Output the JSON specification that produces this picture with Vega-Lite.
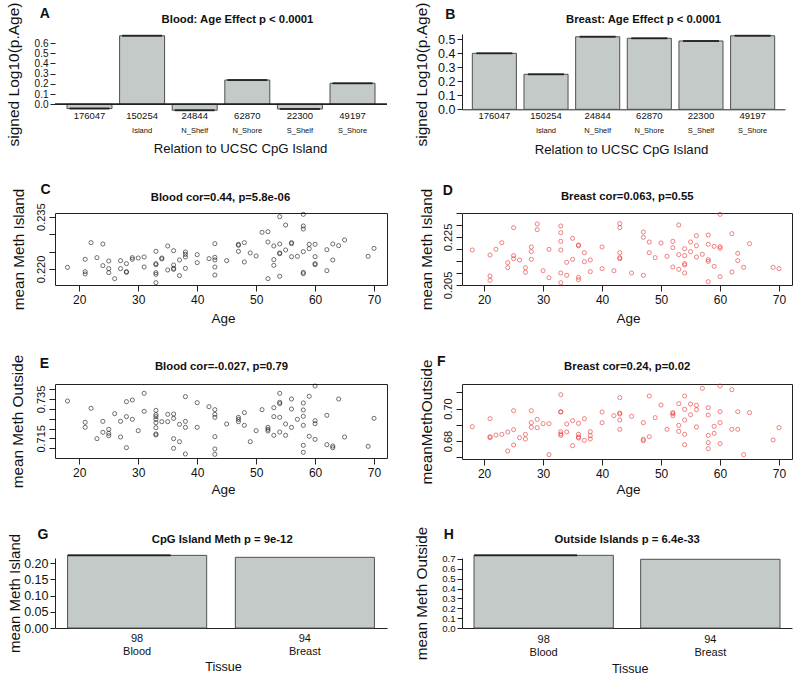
{
"$schema": "https://vega.github.io/schema/vega-lite/v6.json",
"autosize": {"type": "pad"},
"padding": {"left": 6, "top": 2, "right": 0, "bottom": 0},
"config": {
 "font": "Liberation Sans",
 "view": {"stroke": null},
 "axis": {"grid": false, "labelOverlap": false, "labelFlush": false, "titleFontWeight": "normal", "domainColor": "#222", "tickColor": "#222", "labelColor": "#111", "titleColor": "#111"}
},
"datasets": {
 "A": [{"n":"176047","r":"","v":-0.042},{"n":"150254","r":"Island","v":0.672},{"n":"24844","r":"N_Shelf","v":-0.058},{"n":"62870","r":"N_Shore","v":0.238},{"n":"22300","r":"S_Shelf","v":-0.046},{"n":"49197","r":"S_Shore","v":0.206}],
 "B": [{"n":"176047","r":"","v":0.398},{"n":"150254","r":"Island","v":0.249},{"n":"24844","r":"N_Shelf","v":0.516},{"n":"62870","r":"N_Shore","v":0.505},{"n":"22300","r":"S_Shelf","v":0.486},{"n":"49197","r":"S_Shore","v":0.523}],
 "G": [{"t":"98|Blood","v":0.2235},{"t":"94|Breast","v":0.2175}],
 "H": [{"t":"98|Blood","v":0.737},{"t":"94|Breast","v":0.697}],
 "C": [{"a":18,"m":0.22048},{"a":21,"m":0.22277},{"a":21,"m":0.21924},{"a":21,"m":0.21857},{"a":22,"m":0.22755},{"a":23,"m":0.22325},{"a":24,"m":0.22717},{"a":24,"m":0.22096},{"a":25,"m":0.22229},{"a":25,"m":0.2201},{"a":25,"m":0.21895},{"a":26,"m":0.21723},{"a":27,"m":0.22239},{"a":27,"m":0.2201},{"a":28,"m":0.22153},{"a":28,"m":0.21924},{"a":28,"m":0.21904},{"a":29,"m":0.22325},{"a":29,"m":0.22277},{"a":30,"m":0.22315},{"a":31,"m":0.22344},{"a":31,"m":0.22057},{"a":33,"m":0.22506},{"a":33,"m":0.22153},{"a":33,"m":0.22124},{"a":33,"m":0.21895},{"a":33,"m":0.21847},{"a":33,"m":0.21608},{"a":34,"m":0.22315},{"a":34,"m":0.22287},{"a":35,"m":0.22659},{"a":35,"m":0.21971},{"a":36,"m":0.22525},{"a":36,"m":0.22115},{"a":36,"m":0.22019},{"a":36,"m":0.2199},{"a":37,"m":0.22258},{"a":37,"m":0.21809},{"a":38,"m":0.22487},{"a":38,"m":0.2242},{"a":38,"m":0.22344},{"a":38,"m":0.22019},{"a":40,"m":0.22411},{"a":40,"m":0.22182},{"a":42,"m":0.22296},{"a":43,"m":0.22726},{"a":43,"m":0.22334},{"a":43,"m":0.22258},{"a":43,"m":0.22057},{"a":43,"m":0.21828},{"a":45,"m":0.22239},{"a":47,"m":0.22707},{"a":47,"m":0.22678},{"a":47,"m":0.22506},{"a":48,"m":0.22755},{"a":48,"m":0.22201},{"a":49,"m":0.22459},{"a":50,"m":0.22373},{"a":51,"m":0.23051},{"a":52,"m":0.2307},{"a":52,"m":0.22774},{"a":52,"m":0.21723},{"a":53,"m":0.22659},{"a":53,"m":0.22268},{"a":53,"m":0.22105},{"a":54,"m":0.235},{"a":54,"m":0.22717},{"a":54,"m":0.22459},{"a":54,"m":0.22439},{"a":54,"m":0.2179},{"a":55,"m":0.23261},{"a":55,"m":0.22545},{"a":56,"m":0.22755},{"a":56,"m":0.22726},{"a":56,"m":0.22353},{"a":57,"m":0.22363},{"a":58,"m":0.23567},{"a":58,"m":0.23232},{"a":58,"m":0.23146},{"a":58,"m":0.22497},{"a":58,"m":0.21904},{"a":58,"m":0.21866},{"a":59,"m":0.22707},{"a":59,"m":0.22583},{"a":60,"m":0.22707},{"a":60,"m":0.22353},{"a":60,"m":0.22153},{"a":60,"m":0.22124},{"a":62,"m":0.22554},{"a":62,"m":0.21952},{"a":63,"m":0.22717},{"a":63,"m":0.22258},{"a":64,"m":0.22669},{"a":65,"m":0.22831},{"a":69,"m":0.22363},{"a":70,"m":0.22592}],
 "D": [{"a":18,"m":0.21958},{"a":21,"m":0.2175},{"a":21,"m":0.20875},{"a":21,"m":0.20694},{"a":22,"m":0.21986},{"a":23,"m":0.22264},{"a":24,"m":0.21431},{"a":24,"m":0.21222},{"a":25,"m":0.22889},{"a":25,"m":0.21722},{"a":25,"m":0.21597},{"a":26,"m":0.21542},{"a":27,"m":0.21222},{"a":27,"m":0.21028},{"a":28,"m":0.22083},{"a":28,"m":0.21889},{"a":28,"m":0.2157},{"a":29,"m":0.23042},{"a":29,"m":0.22806},{"a":30,"m":0.21097},{"a":31,"m":0.21986},{"a":31,"m":0.20806},{"a":33,"m":0.22959},{"a":33,"m":0.22681},{"a":33,"m":0.2232},{"a":33,"m":0.21958},{"a":33,"m":0.21},{"a":33,"m":0.20597},{"a":34,"m":0.21445},{"a":34,"m":0.20903},{"a":35,"m":0.22445},{"a":35,"m":0.2157},{"a":36,"m":0.22167},{"a":36,"m":0.22139},{"a":36,"m":0.20819},{"a":36,"m":0.20722},{"a":37,"m":0.21847},{"a":37,"m":0.21472},{"a":38,"m":0.21542},{"a":38,"m":0.21056},{"a":40,"m":0.22083},{"a":40,"m":0.21181},{"a":42,"m":0.21097},{"a":43,"m":0.23056},{"a":43,"m":0.22889},{"a":43,"m":0.21847},{"a":43,"m":0.21639},{"a":43,"m":0.21597},{"a":45,"m":0.21},{"a":47,"m":0.22709},{"a":47,"m":0.22486},{"a":47,"m":0.20903},{"a":48,"m":0.22292},{"a":48,"m":0.21847},{"a":49,"m":0.21639},{"a":50,"m":0.2225},{"a":51,"m":0.21695},{"a":52,"m":0.2232},{"a":52,"m":0.22056},{"a":52,"m":0.2125},{"a":53,"m":0.23},{"a":53,"m":0.21764},{"a":53,"m":0.21153},{"a":54,"m":0.22014},{"a":54,"m":0.21722},{"a":54,"m":0.21389},{"a":54,"m":0.21333},{"a":54,"m":0.21},{"a":55,"m":0.22292},{"a":55,"m":0.21889},{"a":56,"m":0.22556},{"a":56,"m":0.22139},{"a":56,"m":0.21667},{"a":57,"m":0.21778},{"a":58,"m":0.22584},{"a":58,"m":0.22195},{"a":58,"m":0.21556},{"a":58,"m":0.21486},{"a":58,"m":0.20639},{"a":59,"m":0.22111},{"a":59,"m":0.21278},{"a":60,"m":0.23445},{"a":60,"m":0.22097},{"a":60,"m":0.22028},{"a":60,"m":0.20847},{"a":62,"m":0.22639},{"a":62,"m":0.21042},{"a":63,"m":0.2182},{"a":63,"m":0.21514},{"a":64,"m":0.21236},{"a":65,"m":0.22222},{"a":69,"m":0.21236},{"a":70,"m":0.21181}],
 "E": [{"a":18,"m":0.73398},{"a":21,"m":0.72314},{"a":21,"m":0.72059},{"a":22,"m":0.73026},{"a":23,"m":0.71483},{"a":24,"m":0.72364},{"a":24,"m":0.71805},{"a":25,"m":0.71958},{"a":25,"m":0.71754},{"a":25,"m":0.71636},{"a":26,"m":0.72754},{"a":27,"m":0.72364},{"a":27,"m":0.71568},{"a":28,"m":0.73365},{"a":28,"m":0.72602},{"a":28,"m":0.71025},{"a":29,"m":0.73449},{"a":29,"m":0.72466},{"a":30,"m":0.7189},{"a":31,"m":0.73788},{"a":31,"m":0.72873},{"a":33,"m":0.72924},{"a":33,"m":0.72703},{"a":33,"m":0.72602},{"a":33,"m":0.72466},{"a":33,"m":0.72297},{"a":33,"m":0.72042},{"a":33,"m":0.7172},{"a":33,"m":0.7167},{"a":34,"m":0.72348},{"a":35,"m":0.7272},{"a":35,"m":0.72348},{"a":36,"m":0.72737},{"a":36,"m":0.72517},{"a":36,"m":0.71483},{"a":36,"m":0.70992},{"a":37,"m":0.72212},{"a":37,"m":0.7133},{"a":38,"m":0.73619},{"a":38,"m":0.72364},{"a":38,"m":0.72059},{"a":38,"m":0.70703},{"a":40,"m":0.73314},{"a":40,"m":0.72059},{"a":42,"m":0.7311},{"a":43,"m":0.72958},{"a":43,"m":0.7272},{"a":43,"m":0.72568},{"a":43,"m":0.71585},{"a":43,"m":0.70958},{"a":43,"m":0.70686},{"a":45,"m":0.72229},{"a":47,"m":0.72568},{"a":47,"m":0.72466},{"a":47,"m":0.72348},{"a":48,"m":0.72805},{"a":48,"m":0.72161},{"a":49,"m":0.7133},{"a":50,"m":0.7189},{"a":51,"m":0.72958},{"a":52,"m":0.72059},{"a":52,"m":0.71958},{"a":52,"m":0.71873},{"a":53,"m":0.73059},{"a":53,"m":0.72602},{"a":53,"m":0.71653},{"a":54,"m":0.73788},{"a":54,"m":0.73331},{"a":54,"m":0.73263},{"a":54,"m":0.72568},{"a":54,"m":0.71822},{"a":55,"m":0.72229},{"a":55,"m":0.71653},{"a":56,"m":0.735},{"a":56,"m":0.72992},{"a":56,"m":0.72059},{"a":57,"m":0.72466},{"a":58,"m":0.73297},{"a":58,"m":0.72941},{"a":58,"m":0.72619},{"a":58,"m":0.72161},{"a":58,"m":0.71144},{"a":58,"m":0.70788},{"a":59,"m":0.73636},{"a":59,"m":0.71602},{"a":60,"m":0.74161},{"a":60,"m":0.72398},{"a":60,"m":0.72246},{"a":60,"m":0.71449},{"a":62,"m":0.7267},{"a":62,"m":0.71178},{"a":63,"m":0.7111},{"a":63,"m":0.71025},{"a":64,"m":0.735},{"a":65,"m":0.71568},{"a":69,"m":0.71093},{"a":70,"m":0.72517}],
 "F": [{"a":18,"m":0.68882},{"a":21,"m":0.69374},{"a":21,"m":0.68267},{"a":21,"m":0.68205},{"a":22,"m":0.68369},{"a":23,"m":0.6841},{"a":24,"m":0.68554},{"a":24,"m":0.67385},{"a":25,"m":0.69867},{"a":25,"m":0.68697},{"a":25,"m":0.67754},{"a":26,"m":0.68205},{"a":27,"m":0.6841},{"a":27,"m":0.68123},{"a":28,"m":0.69867},{"a":28,"m":0.69128},{"a":28,"m":0.68841},{"a":29,"m":0.69333},{"a":29,"m":0.68821},{"a":30,"m":0.69067},{"a":31,"m":0.69067},{"a":31,"m":0.67159},{"a":33,"m":0.70851},{"a":33,"m":0.69805},{"a":33,"m":0.69785},{"a":33,"m":0.68574},{"a":33,"m":0.68431},{"a":33,"m":0.68349},{"a":34,"m":0.69046},{"a":34,"m":0.68554},{"a":35,"m":0.69251},{"a":35,"m":0.67713},{"a":36,"m":0.69087},{"a":36,"m":0.6841},{"a":36,"m":0.68246},{"a":36,"m":0.68185},{"a":37,"m":0.69374},{"a":37,"m":0.68041},{"a":38,"m":0.68574},{"a":38,"m":0.68328},{"a":38,"m":0.68123},{"a":40,"m":0.69785},{"a":40,"m":0.69128},{"a":42,"m":0.69559},{"a":43,"m":0.70667},{"a":43,"m":0.69723},{"a":43,"m":0.69662},{"a":43,"m":0.69292},{"a":43,"m":0.68718},{"a":45,"m":0.69518},{"a":47,"m":0.69128},{"a":47,"m":0.68103},{"a":47,"m":0.68021},{"a":48,"m":0.70769},{"a":48,"m":0.68267},{"a":49,"m":0.69436},{"a":50,"m":0.70215},{"a":51,"m":0.68718},{"a":52,"m":0.69744},{"a":52,"m":0.69682},{"a":52,"m":0.69559},{"a":53,"m":0.70297},{"a":53,"m":0.68964},{"a":53,"m":0.68595},{"a":54,"m":0.70769},{"a":54,"m":0.69949},{"a":54,"m":0.69292},{"a":54,"m":0.6841},{"a":54,"m":0.67774},{"a":55,"m":0.70277},{"a":55,"m":0.6962},{"a":56,"m":0.70195},{"a":56,"m":0.69928},{"a":56,"m":0.68862},{"a":57,"m":0.71241},{"a":58,"m":0.70051},{"a":58,"m":0.696},{"a":58,"m":0.68349},{"a":58,"m":0.67897},{"a":58,"m":0.67528},{"a":59,"m":0.68903},{"a":59,"m":0.68472},{"a":60,"m":0.71385},{"a":60,"m":0.69805},{"a":60,"m":0.69128},{"a":60,"m":0.67836},{"a":62,"m":0.71159},{"a":62,"m":0.68718},{"a":63,"m":0.69805},{"a":63,"m":0.68718},{"a":64,"m":0.67159},{"a":65,"m":0.69744},{"a":69,"m":0.68062},{"a":70,"m":0.68821}]
},
"columns": 2,
"bounds": "flush",
"align": "each",
"center": false,
"spacing": {"row": 99, "column": 75},
"concat": [
 {"width": 332, "height": 80, "data": {"name": "A"},
  "layer": [
   {"mark": {"type": "bar", "fill": "#C3CAC8", "stroke": "#505050", "strokeWidth": 1},
    "encoding": {
     "x": {"field": "n", "type": "nominal", "sort": null, "scale": {"paddingInner": 0.145, "paddingOuter": 0.228},
      "axis": {"orient": "bottom", "title": "Relation to UCSC CpG Island", "domain": false, "ticks": false, "tickSize": 0, "labelAngle": 0, "labelFontSize": 9.5, "labelBaseline": "middle", "labelPadding": 1.5, "titleFontSize": 13.2, "titleX": 185, "titleY": 34.3, "titleBaseline": "middle"}},
     "y": {"field": "v", "type": "quantitative", "scale": {"domain": [-0.0951, 0.6892], "nice": false, "zero": false},
      "axis": {"orient": "left", "title": "signed Log10(p.Age)", "values": [0, 0.1, 0.2, 0.3, 0.4, 0.5, 0.6], "format": ".1f", "domain": false, "tickSize": 5, "labelPadding": 2, "labelFontSize": 10, "titleFontSize": 15.5, "titleX": -41.5, "titleY": 40, "titleBaseline": "middle"}}}},
   {"mark": {"type": "rule", "color": "#222", "strokeWidth": 1},
    "encoding": {"y": {"datum": 0, "type": "quantitative", "scale": {"domain": [-0.0951, 0.6892], "nice": false, "zero": false}, "axis": null}}},
   {"mark": {"type": "text", "fontSize": 7.5, "baseline": "middle", "color": "#111"},
    "encoding": {"x": {"field": "n", "type": "nominal", "sort": null, "axis": null}, "y": {"datum": -0.2588, "type": "quantitative", "scale": {"domain": [-0.0951, 0.6892], "nice": false, "zero": false}, "axis": null}, "text": {"field": "r"}}},
   {"mark": {"type": "tick", "color": "#000", "thickness": 2, "size": 40},
    "encoding": {
     "x": {"field": "n", "type": "nominal", "sort": null, "axis": {"orient": "top", "title": "Blood: Age Effect p < 0.0001", "labels": false, "ticks": false, "domain": false, "titleFontWeight": "bold", "titleFontSize": 11.3, "titleX": 182, "titleY": -14.5, "titleBaseline": "middle"}},
     "y": {"field": "v", "type": "quantitative", "scale": {"domain": [-0.0951, 0.6892], "nice": false, "zero": false}, "axis": {"orient": "right", "title": "A", "labels": false, "ticks": false, "domain": false, "titleAngle": 0, "titleAlign": "center", "titleBaseline": "middle", "titleFontWeight": "bold", "titleFontSize": 14, "titleX": -342.7, "titleY": -20.2}}}}
  ],
  "resolve": {"axis": {"x": "independent", "y": "independent"}}},
 {"width": 323, "height": 75.3, "data": {"name": "B"},
  "layer": [
   {"mark": {"type": "bar", "fill": "#C3CAC8", "stroke": "#505050", "strokeWidth": 1},
    "encoding": {
     "x": {"field": "n", "type": "nominal", "sort": null, "scale": {"paddingInner": 0.147, "paddingOuter": 0.2},
      "axis": {"orient": "bottom", "title": "Relation to UCSC CpG Island", "domain": true, "ticks": false, "tickSize": 0, "labelAngle": 0, "labelFontSize": 9.5, "labelBaseline": "middle", "labelPadding": 6, "titleFontSize": 13.2, "titleX": 159, "titleY": 39.7, "titleBaseline": "middle"}},
     "y": {"field": "v", "type": "quantitative", "scale": {"domain": [0, 0.5356], "nice": false, "zero": false},
      "axis": {"orient": "left", "title": "signed Log10(p.Age)", "values": [0, 0.1, 0.2, 0.3, 0.4, 0.5], "format": ".1f", "domain": true, "tickSize": 5, "labelPadding": 2, "labelFontSize": 12.5, "titleFontSize": 15.5, "titleX": -41, "titleY": 40, "titleBaseline": "middle"}}}},
   {"mark": {"type": "text", "fontSize": 7.5, "baseline": "middle", "color": "#111"},
    "encoding": {"x": {"field": "n", "type": "nominal", "sort": null, "axis": null}, "y": {"datum": -0.1522, "type": "quantitative", "scale": {"domain": [0, 0.5356], "nice": false, "zero": false}, "axis": null}, "text": {"field": "r"}}},
   {"mark": {"type": "tick", "color": "#000", "thickness": 2, "size": 36},
    "encoding": {
     "x": {"field": "n", "type": "nominal", "sort": null, "axis": {"orient": "top", "title": "Breast: Age Effect p < 0.0001", "labels": false, "ticks": false, "domain": false, "titleFontWeight": "bold", "titleFontSize": 11.3, "titleX": 181, "titleY": -14.5, "titleBaseline": "middle"}},
     "y": {"field": "v", "type": "quantitative", "scale": {"domain": [0, 0.5356], "nice": false, "zero": false}, "axis": {"orient": "right", "title": "B", "labels": false, "ticks": false, "domain": false, "titleAngle": 0, "titleAlign": "center", "titleBaseline": "middle", "titleFontWeight": "bold", "titleFontSize": 14, "titleX": -335.3, "titleY": -20}}}}
  ],
  "resolve": {"axis": {"x": "independent", "y": "independent"}}},
 {"width": 332, "height": 72, "data": {"name": "C"}, "view": {"stroke": "#222"},
  "layer": [
   {"mark": {"type": "point", "shape": "circle", "filled": false, "size": 17, "strokeWidth": 0.8, "color": "#000"},
    "encoding": {
     "x": {"field": "a", "type": "quantitative", "scale": {"domain": [15.88, 72.2], "nice": false, "zero": false},
      "axis": {"orient": "bottom", "title": "Age", "values": [20, 30, 40, 50, 60, 70], "domain": false, "tickSize": 6, "labelPadding": 3, "labelFontSize": 12, "titleFontSize": 13.5, "titleX": 168, "titleY": 33, "titleBaseline": "middle"}},
     "y": {"field": "m", "type": "quantitative", "scale": {"domain": [0.21541, 0.23605], "nice": false, "zero": false},
      "axis": {"orient": "left", "title": "mean Meth Island", "values": [0.22, 0.225, 0.23, 0.235], "labelExpr": "(datum.value < 0.2201 || datum.value > 0.2349) ? format(datum.value, '.3f') : ''", "labelAngle": 270, "labelAlign": "center", "labelBaseline": "bottom", "labelPadding": 3, "labelFontSize": 11, "domain": false, "tickSize": 6, "titleFontSize": 15.3, "titleX": -37, "titleY": 36, "titleBaseline": "middle"}}}},
   {"mark": {"type": "point", "opacity": 0},
    "encoding": {
     "x": {"field": "a", "type": "quantitative", "scale": {"domain": [15.88, 72.2], "nice": false, "zero": false}, "axis": {"orient": "top", "title": "Blood cor=0.44, p=5.8e-06", "labels": false, "ticks": false, "domain": false, "titleFontWeight": "bold", "titleFontSize": 11.3, "titleX": 165, "titleY": -16, "titleBaseline": "middle"}},
     "y": {"field": "m", "type": "quantitative", "scale": {"domain": [0.21541, 0.23605], "nice": false, "zero": false}, "axis": {"orient": "right", "title": "C", "labels": false, "ticks": false, "domain": false, "titleAngle": 0, "titleAlign": "center", "titleBaseline": "middle", "titleFontWeight": "bold", "titleFontSize": 14, "titleX": -342, "titleY": -24}}}}
  ],
  "resolve": {"axis": {"x": "independent", "y": "independent"}}},
 {"width": 330, "height": 72, "data": {"name": "D"}, "view": {"stroke": "#222"},
  "layer": [
   {"mark": {"type": "point", "shape": "circle", "filled": false, "size": 17, "strokeWidth": 0.8, "color": "#E82020"},
    "encoding": {
     "x": {"field": "a", "type": "quantitative", "scale": {"domain": [16.25, 72.2], "nice": false, "zero": false},
      "axis": {"orient": "bottom", "title": "Age", "values": [20, 30, 40, 50, 60, 70], "domain": false, "tickSize": 6, "labelPadding": 3, "labelFontSize": 12, "titleFontSize": 13.5, "titleX": 166, "titleY": 33, "titleBaseline": "middle"}},
     "y": {"field": "m", "type": "quantitative", "scale": {"domain": [0.205, 0.235], "nice": false, "zero": false},
      "axis": {"orient": "left", "title": "mean Meth Island", "values": [0.205, 0.21, 0.215, 0.22, 0.225, 0.23, 0.235], "labelExpr": "(abs(datum.value - 0.205) < 0.0001 || abs(datum.value - 0.225) < 0.0001) ? format(datum.value, '.3f') : ''", "labelAngle": 270, "labelAlign": "center", "labelBaseline": "bottom", "labelPadding": 3, "labelFontSize": 11, "domain": false, "tickSize": 6, "titleFontSize": 15.3, "titleX": -35.3, "titleY": 36, "titleBaseline": "middle"}}}},
   {"mark": {"type": "point", "opacity": 0},
    "encoding": {
     "x": {"field": "a", "type": "quantitative", "scale": {"domain": [16.25, 72.2], "nice": false, "zero": false}, "axis": {"orient": "top", "title": "Breast cor=0.063, p=0.55", "labels": false, "ticks": false, "domain": false, "titleFontWeight": "bold", "titleFontSize": 11.3, "titleX": 164.7, "titleY": -16.5, "titleBaseline": "middle"}},
     "y": {"field": "m", "type": "quantitative", "scale": {"domain": [0.205, 0.235], "nice": false, "zero": false}, "axis": {"orient": "right", "title": "D", "labels": false, "ticks": false, "domain": false, "titleAngle": 0, "titleAlign": "center", "titleBaseline": "middle", "titleFontWeight": "bold", "titleFontSize": 14, "titleX": -344.7, "titleY": -23}}}}
  ],
  "resolve": {"axis": {"x": "independent", "y": "independent"}}},
 {"width": 332, "height": 74, "data": {"name": "E"}, "view": {"stroke": "#222"},
  "layer": [
   {"mark": {"type": "point", "shape": "circle", "filled": false, "size": 17, "strokeWidth": 0.8, "color": "#000"},
    "encoding": {
     "x": {"field": "a", "type": "quantitative", "scale": {"domain": [15.88, 72.2], "nice": false, "zero": false},
      "axis": {"orient": "bottom", "title": "Age", "values": [20, 30, 40, 50, 60, 70], "domain": false, "tickSize": 6, "labelPadding": 3, "labelFontSize": 12, "titleFontSize": 13.5, "titleX": 168, "titleY": 31, "titleBaseline": "middle"}},
     "y": {"field": "m", "type": "quantitative", "scale": {"domain": [0.705, 0.74263], "nice": false, "zero": false},
      "axis": {"orient": "left", "title": "mean Meth Outside", "values": [0.71, 0.715, 0.72, 0.725, 0.73, 0.735, 0.74], "labelExpr": "(abs(datum.value - 0.715) < 0.0001 || abs(datum.value - 0.735) < 0.0001) ? format(datum.value, '.3f') : ''", "labelAngle": 270, "labelAlign": "center", "labelBaseline": "bottom", "labelPadding": 3, "labelFontSize": 11, "domain": false, "tickSize": 6, "titleFontSize": 15.3, "titleX": -38, "titleY": 37, "titleBaseline": "middle"}}}},
   {"mark": {"type": "point", "opacity": 0},
    "encoding": {
     "x": {"field": "a", "type": "quantitative", "scale": {"domain": [15.88, 72.2], "nice": false, "zero": false}, "axis": {"orient": "top", "title": "Blood cor=-0.027, p=0.79", "labels": false, "ticks": false, "domain": false, "titleFontWeight": "bold", "titleFontSize": 11.3, "titleX": 166, "titleY": -17.5, "titleBaseline": "middle"}},
     "y": {"field": "m", "type": "quantitative", "scale": {"domain": [0.705, 0.74263], "nice": false, "zero": false}, "axis": {"orient": "right", "title": "E", "labels": false, "ticks": false, "domain": false, "titleAngle": 0, "titleAlign": "center", "titleBaseline": "middle", "titleFontWeight": "bold", "titleFontSize": 14, "titleX": -343.2, "titleY": -21}}}}
  ],
  "resolve": {"axis": {"x": "independent", "y": "independent"}}},
 {"width": 330, "height": 75, "data": {"name": "F"}, "view": {"stroke": "#222"},
  "layer": [
   {"mark": {"type": "point", "shape": "circle", "filled": false, "size": 17, "strokeWidth": 0.8, "color": "#E82020"},
    "encoding": {
     "x": {"field": "a", "type": "quantitative", "scale": {"domain": [16.25, 72.2], "nice": false, "zero": false},
      "axis": {"orient": "bottom", "title": "Age", "values": [20, 30, 40, 50, 60, 70], "domain": false, "tickSize": 6, "labelPadding": 3, "labelFontSize": 12, "titleFontSize": 13.5, "titleX": 166, "titleY": 30, "titleBaseline": "middle"}},
     "y": {"field": "m", "type": "quantitative", "scale": {"domain": [0.66892, 0.71508], "nice": false, "zero": false},
      "axis": {"orient": "left", "title": "meanMethOutside", "values": [0.67, 0.68, 0.69, 0.7, 0.71], "labelExpr": "(abs(datum.value - 0.68) < 0.0001 || abs(datum.value - 0.7) < 0.0001) ? format(datum.value, '.2f') : ''", "labelAngle": 270, "labelAlign": "center", "labelBaseline": "bottom", "labelPadding": 3, "labelFontSize": 11, "domain": false, "tickSize": 6, "titleFontSize": 15.3, "titleX": -35.3, "titleY": 37.5, "titleBaseline": "middle"}}}},
   {"mark": {"type": "point", "opacity": 0},
    "encoding": {
     "x": {"field": "a", "type": "quantitative", "scale": {"domain": [16.25, 72.2], "nice": false, "zero": false}, "axis": {"orient": "top", "title": "Breast cor=0.24, p=0.02", "labels": false, "ticks": false, "domain": false, "titleFontWeight": "bold", "titleFontSize": 11.3, "titleX": 164.7, "titleY": -18, "titleBaseline": "middle"}},
     "y": {"field": "m", "type": "quantitative", "scale": {"domain": [0.66892, 0.71508], "nice": false, "zero": false}, "axis": {"orient": "right", "title": "F", "labels": false, "ticks": false, "domain": false, "titleAngle": 0, "titleAlign": "center", "titleBaseline": "middle", "titleFontWeight": "bold", "titleFontSize": 14, "titleX": -351.2, "titleY": -23}}}}
  ],
  "resolve": {"axis": {"x": "independent", "y": "independent"}}},
 {"width": 332, "height": 70, "data": {"name": "G"},
  "layer": [
   {"mark": {"type": "bar", "fill": "#C3CAC8", "stroke": "#505050", "strokeWidth": 1},
    "encoding": {
     "x": {"field": "t", "type": "nominal", "sort": null, "scale": {"paddingInner": 0.171, "paddingOuter": 0.075},
      "axis": {"orient": "bottom", "title": "Tissue", "domain": true, "ticks": false, "tickSize": 0, "labelAngle": 0, "labelExpr": "split(datum.label, '|')", "labelFontSize": 11, "labelLineHeight": 12.5, "labelBaseline": "top", "labelPadding": 4.5, "titleFontSize": 12.6, "titleX": 168, "titleY": 38.7, "titleBaseline": "middle"}},
     "y": {"field": "v", "type": "quantitative", "scale": {"domain": [0, 0.2154], "nice": false, "zero": false},
      "axis": {"orient": "left", "title": "mean Meth Island", "values": [0, 0.05, 0.1, 0.15, 0.2], "format": ".2f", "domain": true, "tickSize": 5, "labelPadding": 2, "labelFontSize": 12.5, "titleFontSize": 15, "titleX": -41, "titleY": 35, "titleBaseline": "middle"}}}},
   {"transform": [{"filter": "datum.t == '98|Blood'"}],
    "mark": {"type": "tick", "color": "#000", "thickness": 2, "size": 103, "xOffset": -18},
    "encoding": {
     "x": {"field": "t", "type": "nominal", "sort": null, "axis": {"orient": "top", "title": "CpG Island Meth p = 9e-12", "labels": false, "ticks": false, "domain": false, "titleFontWeight": "bold", "titleFontSize": 11.3, "titleX": 166.7, "titleY": -19, "titleBaseline": "middle"}},
     "y": {"field": "v", "type": "quantitative", "scale": {"domain": [0, 0.2154], "nice": false, "zero": false}, "axis": {"orient": "right", "title": "G", "labels": false, "ticks": false, "domain": false, "titleAngle": 0, "titleAlign": "center", "titleBaseline": "middle", "titleFontWeight": "bold", "titleFontSize": 14, "titleX": -344.5, "titleY": -24}}}}
  ],
  "resolve": {"axis": {"x": "independent", "y": "independent"}}},
 {"width": 330, "height": 70, "data": {"name": "H"},
  "layer": [
   {"mark": {"type": "bar", "fill": "#C3CAC8", "stroke": "#505050", "strokeWidth": 1},
    "encoding": {
     "x": {"field": "t", "type": "nominal", "sort": null, "scale": {"paddingInner": 0.164, "paddingOuter": 0.072},
      "axis": {"orient": "bottom", "title": "Tissue", "domain": true, "ticks": false, "tickSize": 0, "labelAngle": 0, "labelExpr": "split(datum.label, '|')", "labelFontSize": 11, "labelLineHeight": 13.5, "labelBaseline": "top", "labelPadding": 5, "titleFontSize": 12.6, "titleX": 167.7, "titleY": 40.3, "titleBaseline": "middle"}},
     "y": {"field": "v", "type": "quantitative", "scale": {"domain": [0, 0.71], "nice": false, "zero": false},
      "axis": {"orient": "left", "title": "mean Meth Outside", "values": [0, 0.1, 0.2, 0.3, 0.4, 0.5, 0.6, 0.7], "format": ".1f", "domain": true, "tickSize": 5, "labelPadding": 2, "labelFontSize": 9.6, "titleFontSize": 15.3, "titleX": -41, "titleY": 35, "titleBaseline": "middle"}}}},
   {"transform": [{"filter": "datum.t == '98|Blood'"}],
    "mark": {"type": "tick", "color": "#000", "thickness": 2, "size": 103, "xOffset": -18},
    "encoding": {
     "x": {"field": "t", "type": "nominal", "sort": null, "axis": {"orient": "top", "title": "Outside Islands p = 6.4e-33", "labels": false, "ticks": false, "domain": false, "titleFontWeight": "bold", "titleFontSize": 11.3, "titleX": 164.7, "titleY": -19, "titleBaseline": "middle"}},
     "y": {"field": "v", "type": "quantitative", "scale": {"domain": [0, 0.71], "nice": false, "zero": false}, "axis": {"orient": "right", "title": "H", "labels": false, "ticks": false, "domain": false, "titleAngle": 0, "titleAlign": "center", "titleBaseline": "middle", "titleFontWeight": "bold", "titleFontSize": 14, "titleX": -343.7, "titleY": -24}}}}
  ],
  "resolve": {"axis": {"x": "independent", "y": "independent"}}}
]
}
